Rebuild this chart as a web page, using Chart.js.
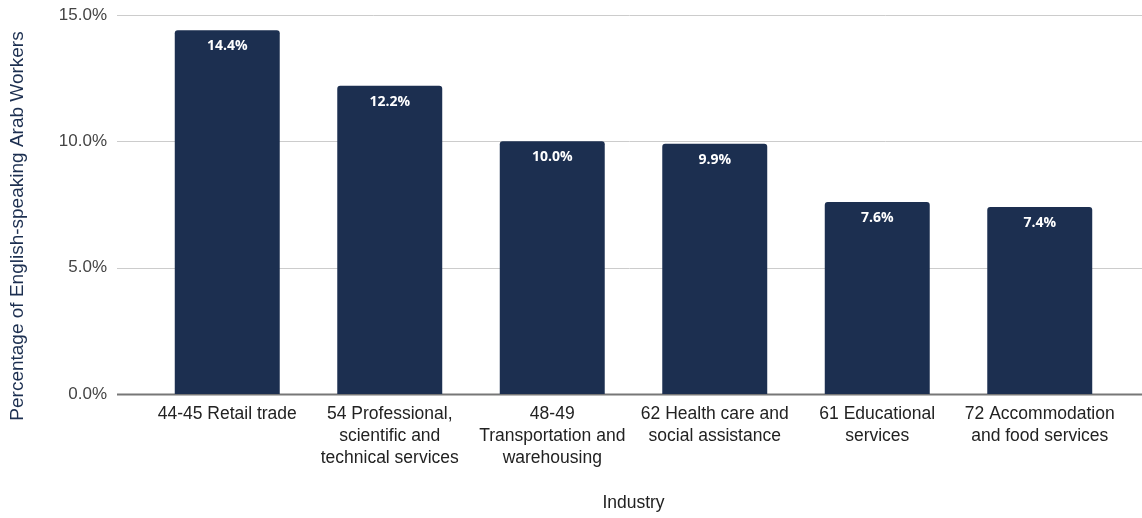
<!DOCTYPE html>
<html>
<head>
<meta charset="utf-8">
<script src="https://cdn.jsdelivr.net/npm/chart.js@4.4.1/dist/chart.umd.min.js"></script>
<style>
  html, body { margin: 0; padding: 0; background: #fff; }
  #wrap { width: 1142px; height: 518px; position: relative; }
</style>
</head>
<body>
<div id="wrap"><canvas id="industry-chart"></canvas></div>
<script>
const industries = [
  ['44-45 Retail trade'],
  ['54 Professional,', 'scientific and', 'technical services'],
  ['48-49', 'Transportation and', 'warehousing'],
  ['62 Health care and', 'social assistance'],
  ['61 Educational', 'services'],
  ['72 Accommodation', 'and food services'],
]
const shares = [14.4, 12.2, 10.0, 9.9, 7.6, 7.4]
const yTicks = [0, 5, 10, 15]

const barColor = '#1c2f50'
const fontFamily = '"Liberation Sans", Arial, sans-serif'
const tickFont = { family: fontFamily, size: 17, lineHeight: 1.3 }
const xLabelFont = { family: fontFamily, size: 17.5, lineHeight: 1.26 }

// horizontal grid lines running the full canvas width, plus a darker baseline
const wideGrid = {
  id: 'wideGrid',
  beforeDatasetsDraw(chart) {
    const { ctx } = chart
    const y = chart.scales.y
    ctx.save()
    yTicks.forEach((v) => {
      const py = Math.round(y.getPixelForValue(v)) + 0.5
      ctx.strokeStyle = v === 0 ? '#777777' : '#cccccc'
      ctx.lineWidth = v === 0 ? 2 : 1
      ctx.beginPath()
      ctx.moveTo(117, py)
      ctx.lineTo(chart.width, py)
      ctx.stroke()
    })
    ctx.restore()
  },
}

// value labels inside the top of each bar
const barValues = {
  id: 'barValues',
  afterDatasetsDraw(chart) {
    const { ctx } = chart
    const meta = chart.getDatasetMeta(0)
    ctx.save()
    ctx.fillStyle = '#ffffff'
    ctx.font = 'bold 14px "Open Sans"'
    ctx.textAlign = 'center'
    ctx.textBaseline = 'middle'
    meta.data.forEach((bar, i) => {
      ctx.fillText(`${shares[i].toFixed(1)}%`, bar.x, bar.y + 16)
    })
    ctx.restore()
  },
}

// rotated y title, placed on the left edge
const yTitle = {
  id: 'yTitle',
  afterDraw(chart) {
    const { ctx } = chart
    ctx.save()
    ctx.translate(18, 226)
    ctx.rotate(-Math.PI / 2)
    ctx.fillStyle = '#1c2f50'
    ctx.font = `19px ${fontFamily}`
    ctx.textAlign = 'center'
    ctx.textBaseline = 'middle'
    ctx.fillText('Percentage of English-speaking Arab Workers', 0, 0)
    ctx.restore()
  },
}

new Chart(document.getElementById('industry-chart'), {
  type: 'bar',
  data: {
    labels: industries,
    datasets: [
      {
        label: 'Share',
        data: shares,
        backgroundColor: barColor,
        borderRadius: { topLeft: 3, topRight: 3 },
        borderSkipped: 'bottom',
        barPercentage: 0.646,
        categoryPercentage: 1,
      },
    ],
  },
  options: {
    responsive: true,
    maintainAspectRatio: false,
    animation: false,
    layout: { padding: { top: 15, right: 21, left: 0, bottom: 0 } },
    plugins: {
      legend: { display: false },
      tooltip: { enabled: false },
    },
    scales: {
      x: {
        grid: { display: false, drawTicks: false },
        border: { display: false },
        ticks: {
          color: '#222222',
          font: xLabelFont,
          padding: 9,
          maxRotation: 0,
          autoSkip: false,
        },
        title: {
          display: true,
          text: 'Industry',
          color: '#222222',
          font: xLabelFont,
          padding: { top: 28 },
        },
        afterFit: (scale) => {
          scale.height = 124
          scale.paddingTop = 0
          scale.paddingBottom = 0
        },
      },
      y: {
        min: 0,
        max: 15,
        afterBuildTicks: (scale) => {
          scale.ticks = yTicks.map((value) => ({ value }))
        },
        grid: { display: false, drawTicks: false },
        border: { display: false },
        ticks: {
          color: '#444444',
          font: tickFont,
          padding: 39,
          callback: (value) => `${value.toFixed(1)}%`,
        },
        afterFit: (scale) => {
          scale.width = 146
          scale.paddingTop = 0
          scale.paddingBottom = 0
        },
      },
    },
  },
  plugins: [wideGrid, barValues, yTitle],
})
</script>
</body>
</html>
